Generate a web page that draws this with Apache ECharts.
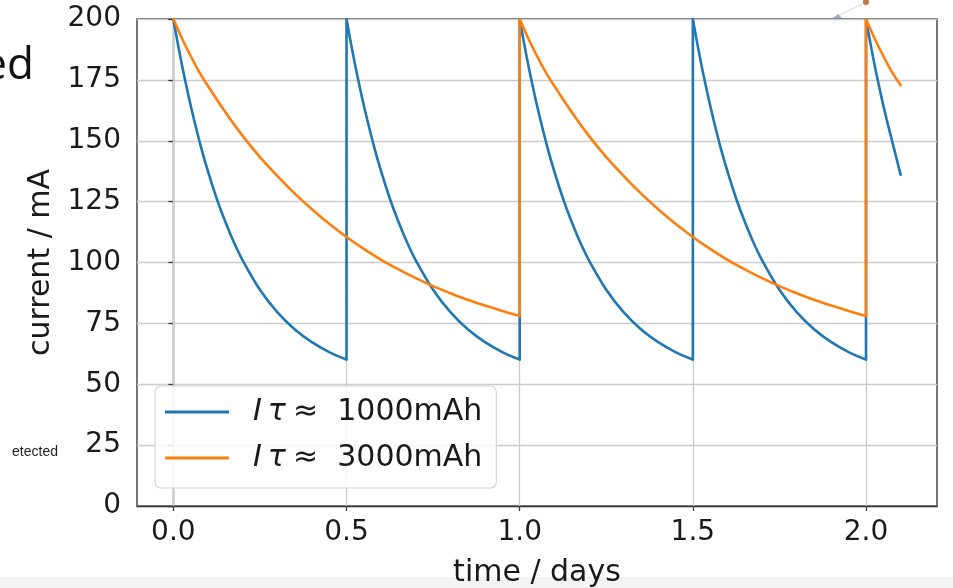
<!DOCTYPE html>
<html>
<head>
<meta charset="utf-8">
<script src="https://cdn.jsdelivr.net/npm/echarts@6/dist/echarts.min.js"></script>
<style>
  html, body { margin: 0; padding: 0; background: #ffffff; }
  #chart { width: 953px; height: 588px; }
</style>
</head>
<body>
<div id="chart"></div>
<script>
// ---- data ----
const blueName = 'blue';
const orangeName = 'orange';

const blueTime = [
  0, 0.01, 0.02, 0.03, 0.045, 0.06, 0.08, 0.1, 0.125, 0.15, 0.175, 0.2, 0.25, 0.3, 0.35, 0.4, 0.45, 0.5,
  0.5, 0.51, 0.52, 0.53, 0.545, 0.56, 0.58, 0.6, 0.625, 0.65, 0.675, 0.7, 0.75, 0.8, 0.85, 0.9, 0.95, 1.0,
  1.0, 1.01, 1.02, 1.03, 1.045, 1.06, 1.08, 1.1, 1.125, 1.15, 1.175, 1.2, 1.25, 1.3, 1.35, 1.4, 1.45, 1.5,
  1.5, 1.51, 1.52, 1.53, 1.545, 1.56, 1.58, 1.6, 1.625, 1.65, 1.675, 1.7, 1.75, 1.8, 1.85, 1.9, 1.95, 2.0,
  2.0, 2.01, 2.02, 2.03, 2.045, 2.06, 2.08, 2.1
];
const blueCurrent = [
  200, 192.1, 184.6, 177.5, 167.6, 158.5, 147.3, 137.4, 126.3, 116.7, 108.2, 100.9, 88.8, 79.6, 72.6, 67.3, 63.2, 60.1,
  200, 192.1, 184.6, 177.5, 167.6, 158.5, 147.3, 137.4, 126.3, 116.7, 108.2, 100.9, 88.8, 79.6, 72.6, 67.3, 63.2, 60.1,
  200, 192.1, 184.6, 177.5, 167.6, 158.5, 147.3, 137.4, 126.3, 116.7, 108.2, 100.9, 88.8, 79.6, 72.6, 67.3, 63.2, 60.1,
  200, 192.1, 184.6, 177.5, 167.6, 158.5, 147.3, 137.4, 126.3, 116.7, 108.2, 100.9, 88.8, 79.6, 72.6, 67.3, 63.2, 60.1,
  200, 192.1, 184.6, 177.5, 167.6, 158.5, 147.3, 136.0
];

const orangeTime = [
  0, 0.025, 0.05, 0.075, 0.1, 0.15, 0.2, 0.25, 0.3, 0.35, 0.4, 0.45, 0.5, 0.55, 0.6, 0.65, 0.7, 0.75, 0.8, 0.85, 0.9, 0.95, 1.0,
  1.0, 1.025, 1.05, 1.075, 1.1, 1.15, 1.2, 1.25, 1.3, 1.35, 1.4, 1.45, 1.5, 1.55, 1.6, 1.65, 1.7, 1.75, 1.8, 1.85, 1.9, 1.95, 2.0,
  2.0, 2.025, 2.05, 2.075, 2.1
];
const orangeCurrent = [
  200, 192.0, 184.8, 178.2, 172.5, 161.8, 152.0, 143.3, 135.6, 128.4, 121.9, 115.9, 110.5, 105.6, 101.1, 97.2, 93.6, 90.3, 87.4, 84.7, 82.3, 80.1, 78.0,
  200, 192.0, 184.8, 178.2, 172.5, 161.8, 152.0, 143.3, 135.6, 128.4, 121.9, 115.9, 110.5, 105.6, 101.1, 97.2, 93.6, 90.3, 87.4, 84.7, 82.3, 80.1, 78.0,
  200, 192.0, 184.8, 178.2, 172.8
];

const xTickValues = [0, 0.5, 1.0, 1.5, 2.0];
const yTickValues = [0, 25, 50, 75, 100, 125, 150, 175, 200];

const legendLabels = {
  blue: '1000mAh',
  orange: '3000mAh'
};

// ---- chart ----
// split decays and vertical jumps into separate (individually smoothed) pieces
function buildPieces(ts, vs) {
  const out = [];
  for (let i = 0; i < ts.length; i++) {
    if (i + 1 < ts.length && ts[i + 1] === ts[i]) {
      out.push([ts[i], vs[i]]);
      out.push([ts[i], '-']);
      out.push([ts[i], vs[i]]);
      out.push([ts[i + 1], vs[i + 1]]);
      out.push([ts[i + 1], '-']);
    } else {
      out.push([ts[i], vs[i]]);
    }
  }
  return out;
}

const textColor = '#1a1a1a';
const gridColor = '#cccccc';
const font = 'DejaVu Sans';

const chart = echarts.init(document.getElementById('chart'), null, { renderer: 'canvas' });

chart.setOption({
  animation: false,
  backgroundColor: '#ffffff',
  grid: {
    left: 137, right: 16, top: 19, bottom: 82,
    outerBoundsMode: 'none',
    containLabel: false,
    show: true, borderColor: '#3c3c3c', borderWidth: 1.4, backgroundColor: 'transparent'
  },
  xAxis: {
    type: 'value',
    min: -0.105, max: 2.205,
    name: 'time / days',
    nameLocation: 'middle',
    nameGap: 52,
    nameTextStyle: { fontFamily: font, fontSize: 30, color: textColor },
    axisLine: { show: true, lineStyle: { color: '#3c3c3c', width: 1.4 } },
    axisTick: { show: true, length: 5, lineStyle: { color: '#3c3c3c', width: 1.3 }, customValues: xTickValues },
    axisLabel: {
      customValues: xTickValues,
      fontFamily: font, fontSize: 28, color: textColor, margin: 13,
      formatter: v => v.toFixed(1)
    },
    splitLine: { show: false }
  },
  yAxis: {
    type: 'value',
    min: yTickValues[0], max: yTickValues[yTickValues.length - 1], interval: 25,
    name: 'current / mA',
    nameLocation: 'middle',
    nameGap: 69,
    nameTextStyle: { fontFamily: font, fontSize: 30, color: textColor },
    axisLine: { show: true, lineStyle: { color: '#3c3c3c', width: 1.4 } },
    axisTick: { show: true, length: 5, lineStyle: { color: '#3c3c3c', width: 1.3 } },
    axisLabel: { fontFamily: font, fontSize: 28, color: textColor, margin: 16 },
    splitLine: { show: true, lineStyle: { color: gridColor, width: 1.3 } }
  },
  legend: {
    orient: 'vertical',
    left: 155, top: 386,
    padding: [8, 14, 12, 10],
    icon: 'rect',
    itemWidth: 64, itemHeight: 3, itemGap: 10,
    backgroundColor: 'rgba(255,255,255,0.85)',
    borderColor: '#d4d4d4', borderWidth: 1.2, borderRadius: 6,
    data: [blueName, orangeName],
    formatter: name => '{s|}{i|I\u2009τ}{n|≈  ' + legendLabels[name] + '}',
    textStyle: {
      fontFamily: font, fontSize: 30, color: textColor, lineHeight: 36,
      rich: {
        s: { width: 19 },
        i: { fontFamily: font, fontSize: 30, fontStyle: 'italic', color: textColor, lineHeight: 36, width: 40 },
        n: { fontFamily: font, fontSize: 30, color: textColor, lineHeight: 36 }
      }
    }
  },
  series: [
    {
      name: 'gridlines',
      type: 'line',
      data: [],
      silent: true,
      z: 1,
      markLine: {
        z: 1,
        silent: true,
        symbol: 'none',
        label: { show: false },
        lineStyle: { color: gridColor, width: 1.3, type: 'solid' },
        data: xTickValues.map(v => ({ xAxis: v }))
      }
    },
    {
      name: blueName,
      type: 'line',
      data: buildPieces(blueTime, blueCurrent),
      connectNulls: false,
      smooth: 0.3,
      showSymbol: false, symbol: 'none',
      lineStyle: { color: '#1f77b4', width: 2.6, cap: 'round' },
      itemStyle: { color: '#1f77b4' },
      z: 3
    },
    {
      name: orangeName,
      type: 'line',
      data: buildPieces(orangeTime, orangeCurrent),
      connectNulls: false,
      smooth: 0.3,
      showSymbol: false, symbol: 'none',
      lineStyle: { color: '#ff7f0e', width: 2.6, cap: 'round' },
      itemStyle: { color: '#ff7f0e' },
      z: 4
    }
  ],
  graphic: [
    { type: 'rect', shape: { x: 0, y: 577, width: 953, height: 11 }, style: { fill: '#f3f3f3' }, silent: true },
    { type: 'text', style: { text: 'ed', x: 34, y: 66, align: 'right', verticalAlign: 'middle', font: '44px "Open Sans", "Liberation Sans", sans-serif', fill: '#111111' }, silent: true },
    { type: 'text', style: { text: 'etected', x: 58, y: 452, align: 'right', verticalAlign: 'middle', font: '14px "Liberation Sans", Arial, sans-serif', fill: '#222222' }, silent: true },
    { type: 'line', shape: { x1: 838, y1: 16, x2: 864, y2: 3 }, style: { stroke: '#d8d8d8', lineWidth: 1 }, silent: true },
    { type: 'circle', shape: { cx: 866, cy: 2, r: 3 }, style: { fill: '#c07a45' }, silent: true },
    { type: 'polygon', shape: { points: [[833, 18], [838, 14], [842, 18]] }, style: { fill: '#9fb0c4' }, silent: true }
  ]
});
</script>
</body>
</html>
